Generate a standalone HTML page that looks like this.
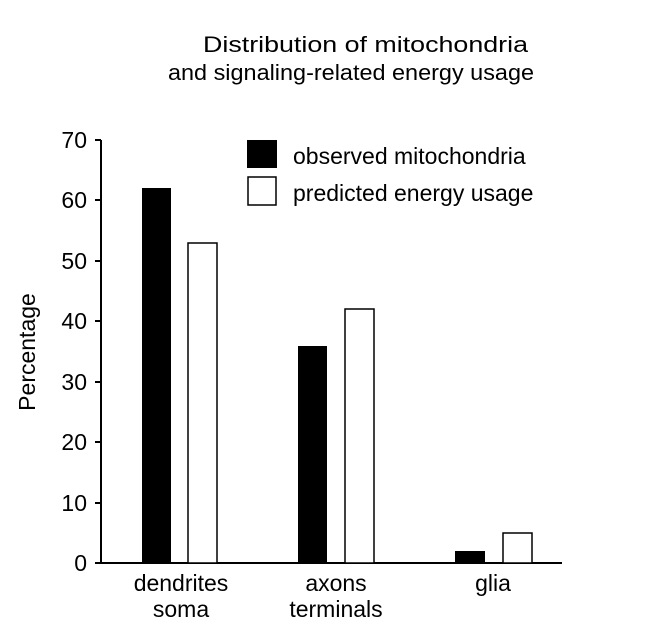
<!DOCTYPE html><html><head><style>body{margin:0;background:#fff}</style></head><body>
<svg width="650" height="626" xmlns="http://www.w3.org/2000/svg" font-family="Liberation Sans, Arial, sans-serif" fill="#000">
<text x="203" y="52" font-size="22" textLength="325" lengthAdjust="spacingAndGlyphs">Distribution of mitochondria</text>
<text x="168" y="80" font-size="22" textLength="366" lengthAdjust="spacingAndGlyphs">and signaling-related energy usage</text>
<g stroke="#000" stroke-width="2">
<line x1="101" y1="140" x2="101" y2="564"/>
<line x1="101" y1="563" x2="562" y2="563"/>
<line x1="95" y1="140" x2="101" y2="140"/><line x1="95" y1="200" x2="101" y2="200"/>
<line x1="95" y1="261" x2="101" y2="261"/><line x1="95" y1="321" x2="101" y2="321"/>
<line x1="95" y1="382" x2="101" y2="382"/><line x1="95" y1="442" x2="101" y2="442"/>
<line x1="95" y1="503" x2="101" y2="503"/><line x1="95" y1="563" x2="101" y2="563"/>
</g>
<g font-size="23" text-anchor="end">
<text x="87" y="148">70</text><text x="87" y="208">60</text><text x="87" y="269">50</text>
<text x="87" y="329">40</text><text x="87" y="390">30</text><text x="87" y="450">20</text>
<text x="87" y="511">10</text><text x="87" y="571">0</text>
</g>
<text transform="translate(35,352) rotate(-90)" font-size="23" text-anchor="middle">Percentage</text>
<rect x="142" y="188" width="29" height="375"/>
<rect x="188" y="243" width="29" height="320" fill="#fff" stroke="#000" stroke-width="1.5"/>
<rect x="298" y="346" width="29" height="217"/>
<rect x="345" y="309" width="29" height="254" fill="#fff" stroke="#000" stroke-width="1.5"/>
<rect x="455" y="551" width="30" height="12"/>
<rect x="503" y="533" width="29" height="30" fill="#fff" stroke="#000" stroke-width="1.5"/>
<rect x="247" y="140" width="30" height="28"/>
<rect x="248" y="177" width="28" height="28" fill="#fff" stroke="#000" stroke-width="1.5"/>
<text x="293" y="164" font-size="23">observed mitochondria</text>
<text x="293" y="201" font-size="23">predicted energy usage</text>
<g font-size="23" text-anchor="middle">
<text x="181" y="591">dendrites</text><text x="181" y="617">soma</text>
<text x="336" y="591">axons</text><text x="336" y="617">terminals</text>
<text x="493" y="591">glia</text>
</g>
</svg>
</body></html>
